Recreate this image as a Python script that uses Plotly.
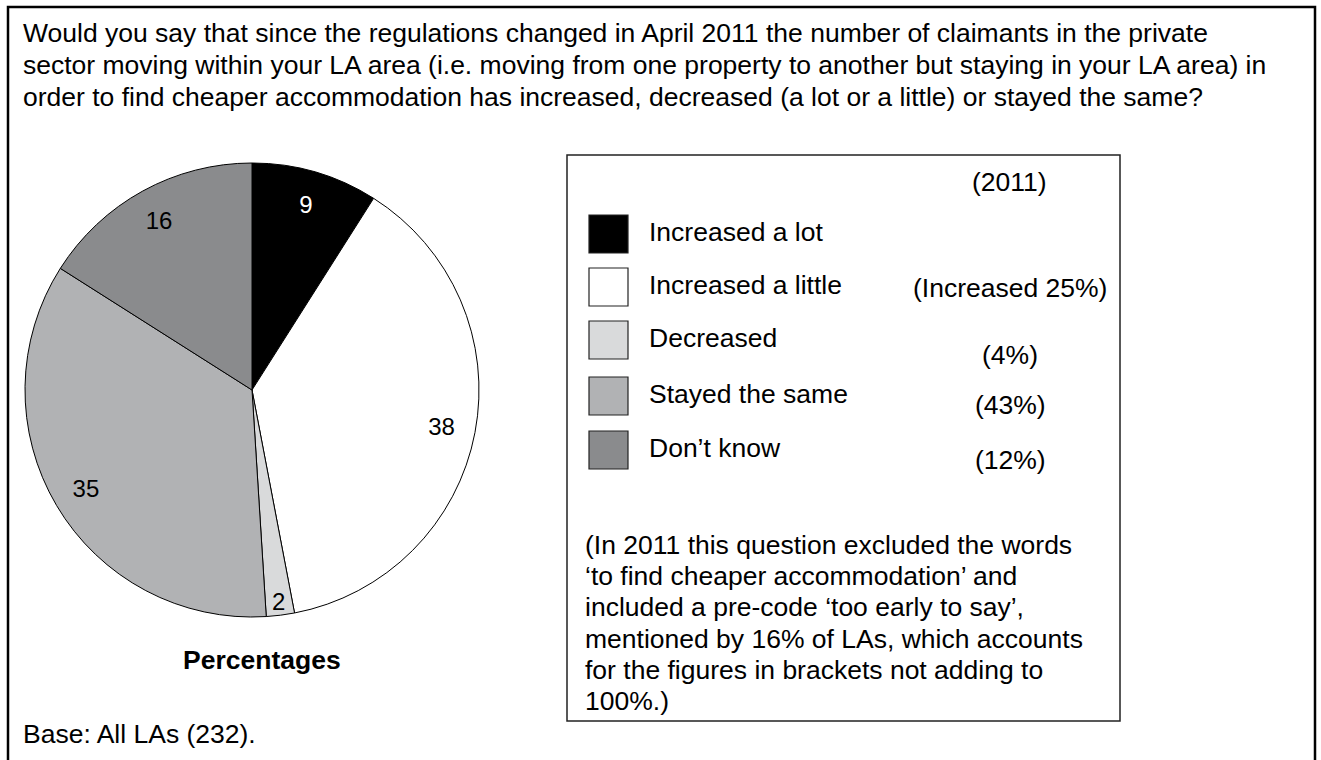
import plotly.graph_objects as go

# data
labels = ["Increased a lot", "Increased a little", "Decreased", "Stayed the same", "Don\u2019t know"]
values = [9, 38, 2, 35, 16]
colors = ["#000000", "#ffffff", "#d9dadb", "#b1b2b4", "#8a8b8d"]
text_colors = ["white", "black", "black", "black", "black"]
figures_2011 = ["", "(Increased 25%)", "(4%)", "(43%)", "(12%)"]

question_lines = [
    "Would you say that since the regulations changed in April 2011 the number of claimants in the private",
    "sector moving within your LA area (i.e. moving from one property to another but staying in your LA area) in",
    "order to find cheaper accommodation has increased, decreased (a lot or a little) or stayed the same?",
]
note_lines = [
    "(In 2011 this question excluded the words",
    "\u2018to find cheaper accommodation\u2019 and",
    "included a pre-code \u2018too early to say\u2019,",
    "mentioned by 16% of LAs, which accounts",
    "for the figures in brackets not adding to",
    "100%.)",
]

W, H = 1321, 760
FONT = "Liberation Sans, Arial, sans-serif"
FS = 26.5

def px(x):
    return x / W

def py(y):
    return 1 - y / H

pie_domain = dict(x=[px(25), px(479)], y=[py(617), py(163)])

fig = go.Figure()
# the slices
fig.add_trace(go.Pie(
    labels=labels,
    values=values,
    sort=False,
    direction="clockwise",
    rotation=0,
    marker=dict(colors=colors, line=dict(color="black", width=1)),
    textinfo="none",
    domain=pie_domain,
    showlegend=False,
    hoverinfo="label+value",
))
# same values as a transparent ring, only to put the numbers near the rim
fig.add_trace(go.Pie(
    labels=labels,
    values=values,
    sort=False,
    direction="clockwise",
    rotation=0,
    hole=0.7,
    marker=dict(colors=["rgba(0,0,0,0)"] * len(values), line=dict(width=0)),
    textinfo="value",
    textposition="inside",
    insidetextorientation="horizontal",
    textfont=dict(family=FONT, size=24, color=text_colors),
    domain=pie_domain,
    showlegend=False,
    hoverinfo="skip",
))

annotations = []
shapes = []

# outer frame
shapes.append(dict(type="rect", xref="paper", yref="paper",
                   x0=px(8), x1=px(1315), y0=-0.05, y1=py(7),
                   line=dict(color="black", width=2.5)))

for i, line in enumerate(question_lines):
    annotations.append(dict(text=line, x=px(21), y=py(33 + 32 * i), xref="paper", yref="paper",
                            xanchor="left", yanchor="middle", showarrow=False,
                            font=dict(family=FONT, size=FS, color="black")))

annotations.append(dict(text="<b>Percentages</b>", x=px(262), y=py(660), xref="paper", yref="paper",
                        xanchor="center", yanchor="middle", showarrow=False,
                        font=dict(family=FONT, size=FS, color="black")))
annotations.append(dict(text="Base: All LAs (232).", x=px(21), y=py(734), xref="paper", yref="paper",
                        xanchor="left", yanchor="middle", showarrow=False,
                        font=dict(family=FONT, size=FS, color="black")))

# legend box
shapes.append(dict(type="rect", xref="paper", yref="paper",
                   x0=px(567), x1=px(1120), y0=py(721), y1=py(155),
                   line=dict(color="#222222", width=1.5)))
annotations.append(dict(text="(2011)", x=px(1009), y=py(182), xref="paper", yref="paper",
                        xanchor="center", yanchor="middle", showarrow=False,
                        font=dict(family=FONT, size=FS, color="black")))

row_y = [234, 287, 340, 396, 450]
val_y = [234, 288, 355, 405, 460]
for i, lab in enumerate(labels):
    shapes.append(dict(type="rect", xref="paper", yref="paper",
                       x0=px(589), x1=px(628), y0=py(row_y[i] + 19), y1=py(row_y[i] - 19),
                       fillcolor=colors[i], line=dict(color="#222222", width=1.2)))
    annotations.append(dict(text=lab, x=px(647), y=py(row_y[i] - 2), xref="paper", yref="paper",
                            xanchor="left", yanchor="middle", showarrow=False,
                            font=dict(family=FONT, size=FS, color="black")))
    if figures_2011[i]:
        annotations.append(dict(text=figures_2011[i], x=px(1010), y=py(val_y[i]), xref="paper", yref="paper",
                                xanchor="center", yanchor="middle", showarrow=False,
                                font=dict(family=FONT, size=FS, color="black")))

for i, line in enumerate(note_lines):
    annotations.append(dict(text=line, x=px(583), y=py(545 + 31.2 * i), xref="paper", yref="paper",
                            xanchor="left", yanchor="middle", showarrow=False,
                            font=dict(family=FONT, size=FS, color="black")))

fig.update_layout(
    width=W, height=H,
    margin=dict(l=0, r=0, t=0, b=0),
    paper_bgcolor="white",
    plot_bgcolor="white",
    uniformtext=dict(minsize=24, mode="show"),
    shapes=shapes,
    annotations=annotations,
    font=dict(family=FONT, color="black"),
)

fig.write_html("out.html", config={"displayModeBar": False},
               post_script="document.body.style.margin='0';")
